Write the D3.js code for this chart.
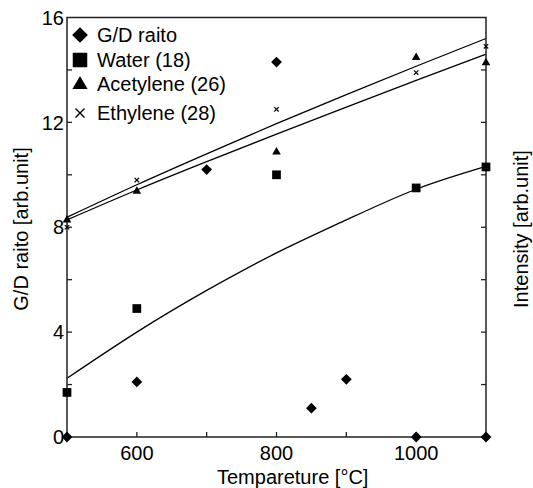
<!DOCTYPE html>
<html>
<head>
<meta charset="utf-8">
<script src="https://cdn.jsdelivr.net/npm/d3@7"></script>
<style>
html,body{margin:0;padding:0;background:#fff;}
svg{display:block;font-family:"Liberation Sans",Arial,sans-serif;}
</style>
</head>
<body>
<svg id="chart" width="533" height="488"></svg>
<script>
// ---- data ----
const gdTemp   = [500, 600, 700, 800, 850, 900, 1000, 1100];
const gdValue  = [0, 2.1, 10.2, 14.3, 1.1, 2.2, 0, 0];

const waterTemp  = [500, 600, 800, 1000, 1100];
const waterValue = [1.7, 4.9, 10.0, 9.5, 10.3];

const acetTemp  = [500, 600, 800, 1000, 1100];
const acetValue = [8.3, 9.4, 10.9, 14.5, 14.3];

const ethTemp  = [500, 600, 800, 1000, 1100];
const ethValue = [8.0, 9.8, 12.5, 13.9, 14.9];

// fitted curves
const fitTemp       = [500, 600, 700, 800, 900, 1000, 1100];
const fitWater      = [2.24, 4.0, 5.59, 7.02, 8.28, 9.45, 10.32];
const fitAcetylene  = [8.28, 9.42, 10.5, 11.55, 12.58, 13.6, 14.6];
const fitEthylene   = [8.38, 9.62, 10.8, 11.95, 13.06, 14.14, 15.2];

const xTicks = [600, 700, 800, 900, 1000];
const xTickLabels = [600, 800, 1000];
const yTicks = [2, 4, 6, 8, 10, 12, 14];
const yTickLabels = [0, 4, 8, 12, 16];

const legendLabels = ["G/D raito", "Water (18)", "Acetylene (26)", "Ethylene (28)"];
const xTitle = "Tempareture [°C]";
const yTitle = "G/D raito [arb.unit]";
const y2Title = "Intensity [arb.unit]";

// ---- layout ----
const svg = d3.select("#chart");
const L = 67, R = 486, T = 17.5, B = 437;
const x = d3.scaleLinear().domain([500, 1100]).range([L, R]);
const y = d3.scaleLinear().domain([0, 16]).range([B, T]);
const ink = "#000";
const axisCol = "#222";
const fs = 20;

// curves
const line = d3.line().x(d => x(d[0])).y(d => y(d[1])).curve(d3.curveNatural);
[fitWater, fitAcetylene, fitEthylene].forEach(vals => {
  svg.append("path")
    .attr("d", line(fitTemp.map((t, i) => [t, vals[i]])))
    .attr("fill", "none").attr("stroke", ink).attr("stroke-width", 1.3);
});

// frame
svg.append("rect").attr("x", L).attr("y", T).attr("width", R - L).attr("height", B - T)
  .attr("fill", "none").attr("stroke", axisCol).attr("stroke-width", 1.5);

// ticks
const tl = 5;
xTicks.forEach(t => svg.append("line").attr("x1", x(t)).attr("x2", x(t))
  .attr("y1", B).attr("y2", B - tl).attr("stroke", axisCol).attr("stroke-width", 1.3));
yTicks.forEach(t => {
  svg.append("line").attr("x1", L).attr("x2", L + tl).attr("y1", y(t)).attr("y2", y(t))
    .attr("stroke", axisCol).attr("stroke-width", 1.3);
  svg.append("line").attr("x1", R).attr("x2", R - tl).attr("y1", y(t)).attr("y2", y(t))
    .attr("stroke", axisCol).attr("stroke-width", 1.3);
});

// tick labels
xTickLabels.forEach(t => svg.append("text").attr("x", x(t)).attr("y", 460)
  .attr("text-anchor", "middle").attr("font-size", fs).attr("fill", ink).text(t));
yTickLabels.forEach(t => svg.append("text").attr("x", L - 3).attr("y", y(t))
  .attr("dy", "0.36em").attr("text-anchor", "end").attr("font-size", fs).attr("fill", ink).text(t));

// titles
svg.append("text").attr("x", 217).attr("y", 484).attr("font-size", fs).attr("fill", ink).text(xTitle);
svg.append("text").attr("transform", "translate(28,229) rotate(-90)")
  .attr("text-anchor", "middle").attr("font-size", fs).attr("fill", ink).text(yTitle);
svg.append("text").attr("transform", "translate(528,229) rotate(-90)")
  .attr("text-anchor", "middle").attr("font-size", fs).attr("fill", ink).text(y2Title);

// markers
function diamond(g, cx, cy, size) {
  g.append("path").attr("d", d3.symbol(d3.symbolSquare, size)())
    .attr("transform", `translate(${cx},${cy}) rotate(45)`).attr("fill", ink);
}
function square(g, cx, cy, size) {
  g.append("path").attr("d", d3.symbol(d3.symbolSquare, size)())
    .attr("transform", `translate(${cx},${cy})`).attr("fill", ink);
}
function triangle(g, cx, cy, size) {
  g.append("path").attr("d", d3.symbol(d3.symbolTriangle, size)())
    .attr("transform", `translate(${cx},${cy + Math.sqrt(size) * 0.12})`).attr("fill", ink);
}
function cross(g, cx, cy, h, w) {
  g.append("path").attr("d", `M${-h},${-h}L${h},${h}M${-h},${h}L${h},${-h}`)
    .attr("transform", `translate(${cx},${cy})`).attr("stroke", ink).attr("stroke-width", w).attr("fill", "none");
}

const pts = svg.append("g");
gdTemp.forEach((t, i) => diamond(pts, x(t), y(gdValue[i]), 58));
waterTemp.forEach((t, i) => square(pts, x(t), y(waterValue[i]), 76));
acetTemp.forEach((t, i) => triangle(pts, x(t), y(acetValue[i]), 32));
ethTemp.forEach((t, i) => cross(pts, x(t), y(ethValue[i]), 2.2, 1.2));

// legend
const lg = svg.append("g");
const lx = 80, tx = 97;
const rowsY = [35, 60, 83.5, 113];
diamond(lg, lx, rowsY[0], 124);
square(lg, lx, rowsY[1], 210);
triangle(lg, lx, rowsY[2], 100);
cross(lg, lx, rowsY[3], 4.5, 1.4);
legendLabels.forEach((s, i) => lg.append("text").attr("x", tx).attr("y", rowsY[i])
  .attr("dy", "0.36em").attr("font-size", fs).attr("fill", ink).text(s));
</script>
</body>
</html>
